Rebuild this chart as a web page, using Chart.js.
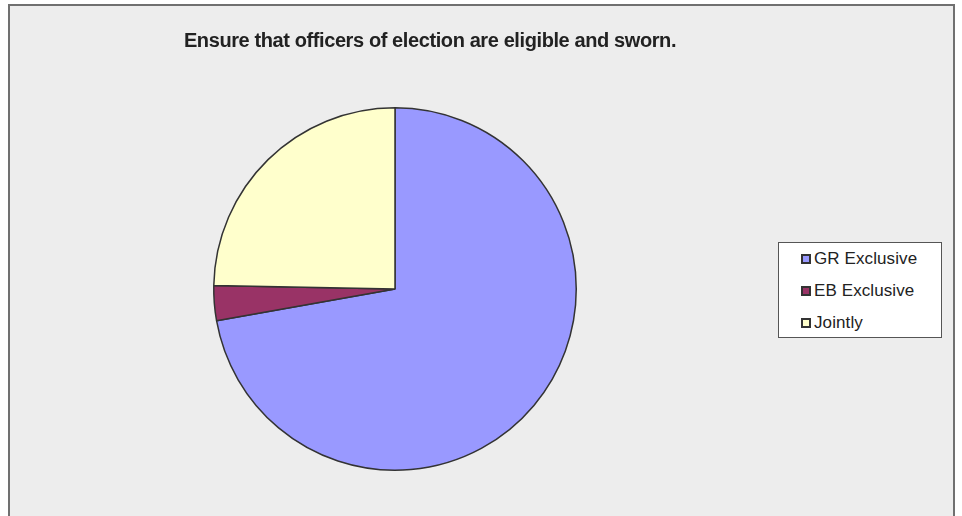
<!DOCTYPE html>
<html><head><meta charset="utf-8">
<script src="https://cdn.jsdelivr.net/npm/chart.js@4/dist/chart.umd.min.js"></script>
<style>
html,body{margin:0;padding:0;background:#fff;}
#wrap{position:absolute;left:0;top:0;width:962px;height:516px;overflow:hidden;}
#frame{position:absolute;left:8px;top:4px;width:947px;height:530px;background:#EDEDED;border:2px solid #707070;box-sizing:border-box;}
#c{position:absolute;left:0;top:0;}
#title{position:absolute;left:0;top:29px;width:860px;text-align:center;font:bold 20px "Liberation Sans",Arial,sans-serif;color:#222;letter-spacing:-0.4px;}
#legend{position:absolute;left:778px;top:242px;width:164px;height:96px;box-sizing:border-box;background:#fff;border:1px solid #555;font:17px "Liberation Sans",Arial,sans-serif;color:#222;}
.item{position:absolute;left:22px;height:20px;line-height:20px;white-space:nowrap;letter-spacing:0.1px;}
.sw{display:inline-block;width:6px;height:6px;border:2px solid #333;margin-right:3px;vertical-align:0px;}
</style></head>
<body>
<div id="wrap">
<div id="frame"></div>
<canvas id="c" width="962" height="516"></canvas>
<div id="title"></div>
<div id="legend"></div>
</div>
<script>
const titleText = "Ensure that officers of election are eligible and sworn.";
const categories = ["GR Exclusive", "EB Exclusive", "Jointly"];
const values = [72.2, 3.1, 24.7];
const colors = ["#9999FF", "#993366", "#FFFFCC"];

document.getElementById('title').textContent = titleText;
const leg = document.getElementById('legend');
categories.forEach((c, i) => {
  const d = document.createElement('div');
  d.className = 'item';
  d.style.top = (6 + i * 32) + 'px';
  const s = document.createElement('span');
  s.className = 'sw';
  s.style.background = colors[i];
  d.appendChild(s);
  d.appendChild(document.createTextNode(c));
  leg.appendChild(d);
});

new Chart(document.getElementById('c'), {
  type: 'pie',
  data: {
    labels: categories,
    datasets: [{
      data: values,
      backgroundColor: colors,
      borderColor: '#333333',
      borderWidth: 1.5
    }]
  },
  options: {
    responsive: false,
    animation: false,
    layout: { padding: { left: 213, top: 107, right: 385, bottom: 45 } },
    plugins: { legend: { display: false }, tooltip: { enabled: false }, title: { display: false } }
  }
});
</script>
</body></html>
